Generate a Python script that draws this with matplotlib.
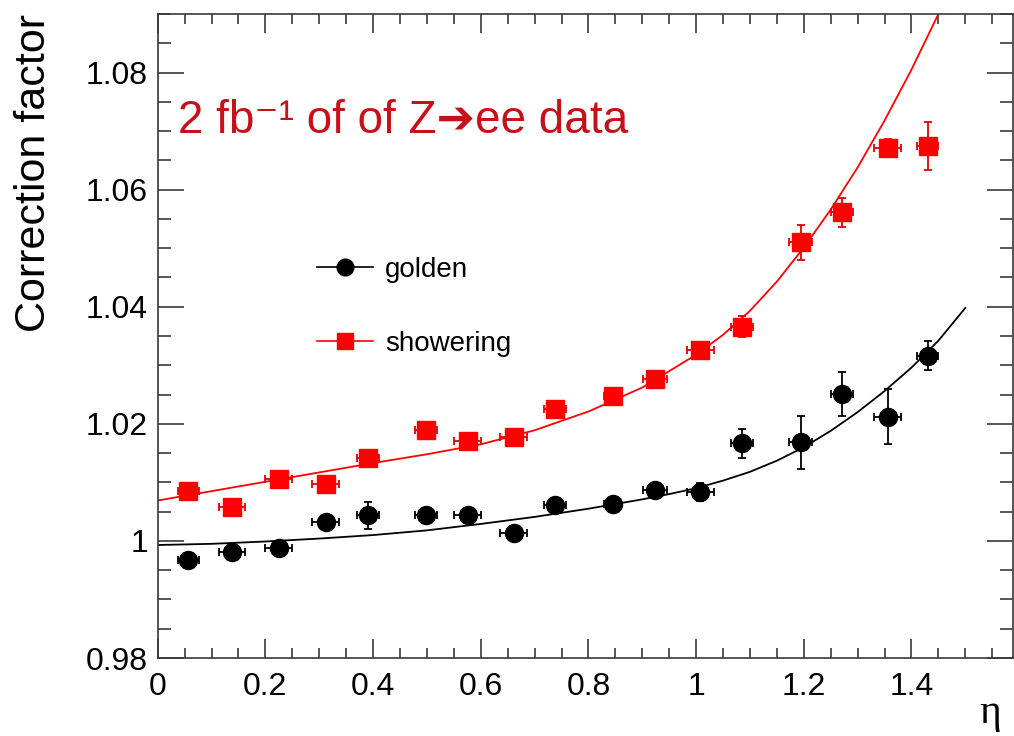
import numpy as np
import matplotlib
matplotlib.use("Agg")
import matplotlib.pyplot as plt
from matplotlib.lines import Line2D
from matplotlib.ticker import MultipleLocator, FuncFormatter

# eta bin centres (same for both categories)
eta = [0.057, 0.138, 0.225, 0.312, 0.391, 0.498, 0.576, 0.661, 0.738,
       0.845, 0.923, 1.008, 1.085, 1.194, 1.271, 1.356, 1.430]
eta_err = [0.019, 0.025, 0.025, 0.025, 0.020, 0.020, 0.025, 0.025, 0.020,
           0.016, 0.022, 0.025, 0.020, 0.022, 0.020, 0.025, 0.020]

# golden electrons
golden = [0.99676, 0.99804, 0.99872, 1.00316, 1.00435, 1.00444, 1.00435,
          1.00137, 1.00619, 1.00623, 1.00874, 1.00833, 1.01664, 1.01681,
          1.02509, 1.02125, 1.03166]
golden_err = [0.0008, 0.0008, 0.0008, 0.0008, 0.0023, 0.0008, 0.0012,
              0.0008, 0.0008, 0.0013, 0.0008, 0.0015, 0.0024, 0.0045,
              0.0037, 0.0047, 0.0025]

# showering electrons
shower = [1.00850, 1.00577, 1.01049, 1.00976, 1.01408, 1.01886, 1.01715,
          1.01771, 1.02256, 1.02471, 1.02773, 1.03259, 1.03660, 1.05099,
          1.05611, 1.06715, 1.06741]
shower_err = [0.0008, 0.0008, 0.0008, 0.0013, 0.0008, 0.0012, 0.0008,
              0.0008, 0.0012, 0.0010, 0.0008, 0.0008, 0.0018, 0.0030,
              0.0025, 0.0015, 0.0041]

# fitted curves
fit_g_eta = [0.0, 0.1, 0.2, 0.3, 0.4, 0.5, 0.6, 0.7, 0.8, 0.9, 0.95, 1.0,
             1.05, 1.1, 1.15, 1.2, 1.25, 1.3, 1.35, 1.4, 1.45, 1.5]
fit_g_val = [0.9993, 0.9995, 0.9999, 1.0004, 1.0010, 1.0018, 1.0029, 1.0041,
             1.0055, 1.0071, 1.0080, 1.0090, 1.0103, 1.0118, 1.0137, 1.0160,
             1.0188, 1.0220, 1.0256, 1.0296, 1.0342, 1.0398]
fit_s_eta = [0.0, 0.1, 0.2, 0.3, 0.4, 0.5, 0.6, 0.7, 0.8, 0.9, 1.0, 1.05,
             1.1, 1.15, 1.2, 1.25, 1.3, 1.35, 1.4, 1.45]
fit_s_val = [1.0069, 1.0085, 1.0101, 1.0117, 1.0133, 1.0148, 1.0165, 1.0189,
             1.0221, 1.0262, 1.0318, 1.0352, 1.0393, 1.0443, 1.0501, 1.0566,
             1.0638, 1.0718, 1.0805, 1.0900]

W, H = 1014, 736
font = ['Liberation Sans', 'DejaVu Sans']
plt.rcParams['font.family'] = font

fig = plt.figure(figsize=(W / 100, H / 100), dpi=100)
ax = fig.add_axes([157.7 / W, 1 - 658 / H, (1012.7 - 157.7) / W, (658 - 14) / H])

ax.plot(fit_s_eta, fit_s_val, color='#ff0000', lw=1.3, zorder=2)
ax.plot(fit_g_eta, fit_g_val, color='black', lw=1.3, zorder=2)

ax.errorbar(eta, shower, xerr=eta_err, yerr=shower_err, fmt='s', ms=13,
            color='#ff0000', ecolor='#e00000', elinewidth=1.3, capsize=3,
            capthick=1.3, zorder=3)
ax.errorbar(eta, golden, xerr=eta_err, yerr=golden_err, fmt='o', ms=13,
            color='black', ecolor='black', elinewidth=1.3, capsize=3,
            capthick=1.3, zorder=3)

ax.set_xlim(0, 1.588)
ax.set_ylim(0.98, 1.09)
ax.xaxis.set_major_locator(MultipleLocator(0.2))
ax.xaxis.set_minor_locator(MultipleLocator(0.05))
ax.yaxis.set_major_locator(MultipleLocator(0.02))
ax.yaxis.set_minor_locator(MultipleLocator(0.005))
fmt = FuncFormatter(lambda v, p: f'{v:g}')
ax.xaxis.set_major_formatter(fmt)
ax.yaxis.set_major_formatter(fmt)

edge = '#3a3a3a'
for s in ax.spines.values():
    s.set_color(edge)
    s.set_linewidth(1.2)
ax.tick_params(which='both', direction='in', top=True, right=True,
               color=edge, width=1.2, labelsize=23)
ax.tick_params(axis='x', which='major', length=13.5, pad=10)
ax.tick_params(axis='x', which='minor', length=7)
ax.tick_params(axis='y', which='major', length=19, pad=7)
ax.tick_params(axis='y', which='minor', length=9.5)

fig.text(34 / W, 1 - 14 / H, 'Correction factor', rotation=90,
         ha='center', va='top', fontsize=31)
fig.text(990 / W, 1 - 713 / H, 'η', ha='center', va='center', fontsize=30,
         family=['Liberation Serif', 'DejaVu Serif'])

handles = [Line2D([], [], color='black', marker='o', ms=12, lw=1.2),
           Line2D([], [], color='#ff0000', marker='s', ms=12, lw=1.2)]
fig.legend(handles, ['golden', 'showering'], loc='upper left',
           bbox_to_anchor=(317 / W, 1 - 257 / H), frameon=False,
           fontsize=20, handlelength=2.0, handletextpad=0.45,
           labelspacing=1.73, borderpad=0, borderaxespad=0)

fig.text(178 / W, 1 - 133 / H, '2 fb⁻¹ of of Z➔ee data', fontsize=33,
         color='#c8101a', va='baseline')

fig.savefig('out.png', dpi=100)
